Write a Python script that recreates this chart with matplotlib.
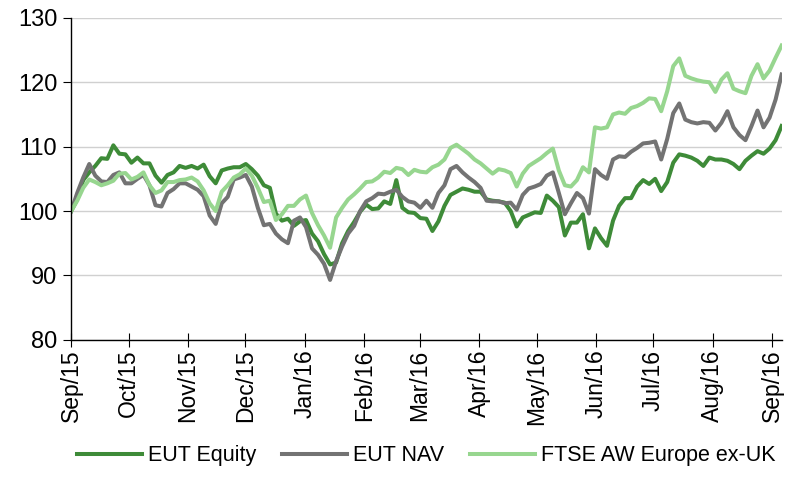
import numpy as np
import pandas as pd
import matplotlib
matplotlib.use('Agg')
import matplotlib.pyplot as plt
import matplotlib.dates as mdates

plt.rcParams['font.family'] = ['Liberation Sans', 'DejaVu Sans']

# index levels, rebased to 100 at start
eut_equity = [
    100.0, 101.8, 104.8, 106.0, 107.0, 108.2, 108.1, 110.2, 108.9, 108.8,
    107.5, 108.3, 107.4, 107.4, 105.5, 104.4, 105.6, 106.0, 107.0, 106.7,
    107.0, 106.6, 107.2, 105.4, 104.3, 106.3, 106.6, 106.8, 106.8, 107.3,
    106.5, 105.5, 104.0, 103.6, 99.6, 98.5, 98.8, 97.7, 98.4, 98.6,
    96.5, 95.3, 93.3, 91.7, 92.0, 95.0, 96.9, 98.3, 99.9, 101.0,
    100.3, 100.4, 101.5, 101.1, 104.8, 100.5, 99.8, 99.7, 98.9, 98.8,
    96.9, 98.4, 100.8, 102.5, 103.0, 103.5, 103.3, 103.0, 103.0, 101.8,
    101.6, 101.5, 101.3, 100.0, 97.6, 99.0, 99.4, 99.8, 99.7, 102.4,
    101.6, 100.6, 96.2, 98.2, 98.2, 99.5, 94.2, 97.3, 95.8, 94.6,
    98.5, 100.8, 102.0, 102.0, 103.8, 104.8, 104.2, 105.0, 103.1, 104.5,
    107.5, 108.8, 108.6, 108.3, 107.8, 107.0, 108.3, 108.0, 108.0, 107.8,
    107.3, 106.5, 107.8, 108.6, 109.3, 108.9, 109.7, 111.0, 113.2,
]
eut_nav = [
    100.0, 102.8, 105.2, 107.3, 105.5, 104.6, 104.5, 105.6, 106.0, 104.3,
    104.3, 105.0, 105.6, 104.0, 100.9, 100.7, 102.8, 103.4, 104.3, 104.3,
    103.8, 103.3, 102.3, 99.3, 98.0, 101.2, 102.2, 104.9, 105.2, 105.6,
    103.8, 100.5, 97.8, 98.0, 96.5, 95.6, 95.0, 98.5, 99.0, 97.5,
    94.2, 93.2, 91.8, 89.3, 92.2, 94.5, 96.5, 97.7, 100.0, 101.5,
    102.0, 102.7, 102.6, 103.0, 103.3, 102.2, 101.5, 101.3, 100.5, 101.6,
    100.5, 102.8, 104.0, 106.5, 107.0, 106.0, 105.2, 104.5, 103.6, 101.6,
    101.5, 101.5, 101.2, 101.3, 100.2, 102.5, 103.5, 103.8, 104.2, 105.5,
    106.0, 102.8, 99.5, 101.2, 102.8, 102.0, 99.6, 106.5, 105.6, 105.0,
    108.0, 108.5, 108.4, 109.2, 109.8, 110.5, 110.6, 110.8, 108.0, 111.2,
    115.2, 116.7, 114.2, 113.8, 113.6, 113.8, 113.7, 112.5, 113.7, 115.5,
    113.0, 111.8, 111.0, 113.2, 115.6, 113.0, 114.5, 117.3, 121.2,
]
ftse_aw = [
    100.0, 101.6, 103.6, 104.9, 104.5, 104.0, 104.3, 104.7, 105.8, 105.9,
    104.9, 105.3, 106.0, 104.0, 102.8, 103.2, 104.5, 104.5, 104.8, 104.9,
    105.2, 104.6, 103.2, 101.2, 100.0, 103.0, 104.0, 105.2, 105.7, 106.6,
    105.5, 103.6, 101.4, 101.6, 98.6, 99.5, 100.8, 100.8, 101.8, 102.4,
    99.7, 97.8, 96.2, 94.3, 99.0, 100.5, 101.8, 102.6, 103.5, 104.5,
    104.6, 105.2, 106.1, 105.9, 106.7, 106.5, 105.6, 106.4, 106.1, 106.0,
    106.8, 107.2, 108.0, 109.8, 110.3, 109.6, 108.9, 108.0, 107.4, 106.6,
    105.8, 106.5, 106.3, 105.9, 103.8, 105.8, 107.0, 107.6, 108.2, 109.0,
    109.7, 106.3, 104.0, 103.8, 104.8, 106.8, 106.0, 113.0, 112.8, 113.0,
    115.0, 115.3, 115.1, 116.0, 116.3, 116.8, 117.5, 117.4, 115.5, 118.6,
    122.5, 123.7, 121.0, 120.6, 120.3, 120.1, 120.0, 118.5, 120.4, 121.4,
    119.0, 118.6, 118.3, 121.0, 122.8, 120.6, 121.8, 123.8, 125.7,
]
labels = ['EUT Equity', 'EUT NAV', 'FTSE AW Europe ex-UK']
colors = ['#3e8b38', '#737373', '#97d68f']

dates = pd.date_range('2015-09-01', '2016-09-06', periods=len(eut_equity))

fig = plt.figure(figsize=(8, 4.82), dpi=100)
ax = fig.add_axes([0.089, 0.295, 0.888, 0.668])

for series, lab, col in zip([eut_equity, eut_nav, ftse_aw], labels, colors):
    ax.plot(dates, series, color=col, lw=2.9, label=lab, solid_joinstyle='round')

ax.set_ylim(80, 130)
ax.set_yticks(np.arange(80, 131, 10))
ax.set_xlim(dates[0], dates[-1])
ax.xaxis.set_major_locator(mdates.MonthLocator())
ax.xaxis.set_major_formatter(mdates.DateFormatter('%b/%y'))

ax.grid(axis='y', color='#d0d0d0', lw=1)
ax.set_axisbelow(True)
for s in ['top', 'right']:
    ax.spines[s].set_visible(False)
for s in ['left', 'bottom']:
    ax.spines[s].set_color('black')
    ax.spines[s].set_linewidth(1)

ax.tick_params(axis='y', direction='out', length=6, labelsize=17, pad=4)
ax.tick_params(axis='x', direction='inout', length=10, labelsize=16.5, labelrotation=90, pad=2)

ax.legend(loc='center', bbox_to_anchor=(0.5, -0.36), ncol=3, frameon=False,
          fontsize=15.5, handlelength=3.0, columnspacing=1.2, handletextpad=0.3)

fig.savefig('out.png', dpi=100)
